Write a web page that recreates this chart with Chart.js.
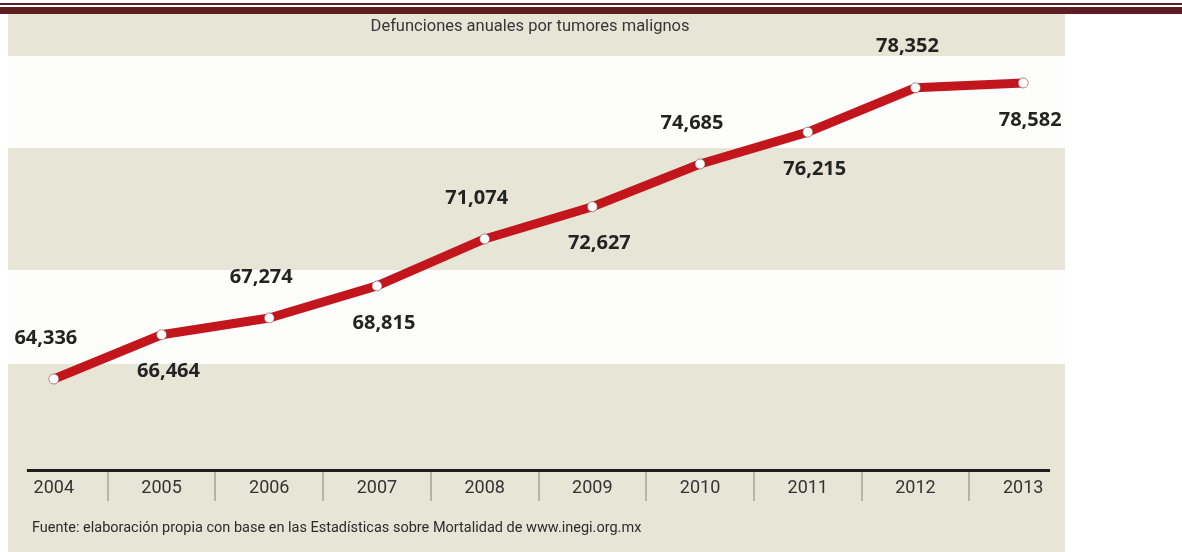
<!DOCTYPE html>
<html><head><meta charset="utf-8">
<script src="https://cdn.jsdelivr.net/npm/chart.js@4/dist/chart.umd.min.js"></script>
<style>
html,body{margin:0;padding:0;background:#fff;width:1182px;height:552px;overflow:hidden;position:relative}
#rule1{position:absolute;left:0;top:3px;width:1182px;height:2px;background:#5e1e20}
#rule2{position:absolute;left:0;top:7px;width:1182px;height:7px;background:#5e1e20}
#panel{position:absolute;left:8px;top:14px;width:1057px;height:538px;
 background:linear-gradient(to bottom,#e6e5d6 0,#e6e5d6 42px,#fdfdfb 42px,#fdfdfb 134px,#e6e5d6 134px,#e6e5d6 256px,#fdfdfb 256px,#fdfdfb 350px,#e6e5d6 350px,#e6e5d6 100%)}
#chart{position:absolute;left:-17px;top:0}
#source{position:absolute;left:32px;top:520px;font-family:Roboto;font-size:14.5px;line-height:16px;color:#2b2b2b;white-space:nowrap}
</style></head>
<body>
<div id="rule1"></div><div id="rule2"></div><div id="panel"></div>
<canvas id="chart" width="1094" height="552"></canvas>
<div id="source">Fuente: elaboración propia con base en las Estadísticas sobre Mortalidad de www.inegi.org.mx</div>
<script>
const years = ['2004','2005','2006','2007','2008','2009','2010','2011','2012','2013'];
const deaths = [64336, 66464, 67274, 68815, 71074, 72627, 74685, 76215, 78352, 78582];
const yMin = 60000;
const yMax = 80000;
const chartTitle = 'Defunciones anuales por tumores malignos';

const pointLabels = {
  id: 'pointLabels',
  afterDatasetsDraw(chart) {
    const ctx = chart.ctx;
    const meta = chart.getDatasetMeta(0);
    ctx.save();
    ctx.font = 'bold 20px "Open Sans"';
    ctx.fillStyle = '#232323';
    ctx.textAlign = 'center';
    ctx.textBaseline = 'middle';
    meta.data.forEach((pt, i) => {
      const above = i % 2 === 0;
      ctx.fillText(deaths[i].toLocaleString('en-US'), pt.x + (above ? -8 : 7), pt.y + (above ? -41 : 37));
    });
    ctx.restore();
  }
};

const axisRule = {
  id: 'axisRule',
  beforeDatasetsDraw(chart) {
    const ctx = chart.ctx;
    const xs = chart.scales.x;
    const y = chart.chartArea.bottom + 1.5;
    ctx.save();
    ctx.strokeStyle = '#1e1e1e';
    ctx.lineWidth = 3;
    ctx.beginPath();
    ctx.moveTo(xs.getPixelForValue(-0.25), y);
    ctx.lineTo(xs.getPixelForValue(years.length - 0.75), y);
    ctx.stroke();
    ctx.restore();
  }
};

new Chart(document.getElementById('chart'), {
  type: 'line',
  data: {
    labels: years,
    datasets: [{
      data: deaths,
      borderColor: '#c3161c',
      borderWidth: 9,
      tension: 0,
      borderCapStyle: 'round',
      borderJoinStyle: 'round',
      pointRadius: 5,
      pointHoverRadius: 5,
      pointBackgroundColor: '#ffffff',
      pointBorderColor: 'rgba(130,70,70,0.6)',
      pointBorderWidth: 1,
      fill: false
    }]
  },
  options: {
    responsive: false,
    devicePixelRatio: 1,
    animation: false,
    events: [],
    layout: { autoPadding: false, padding: { left: 0, right: 0, top: 0, bottom: 12.9 } },
    plugins: {
      legend: { display: false },
      tooltip: { enabled: false },
      title: {
        display: true,
        text: chartTitle,
        color: '#363636',
        font: { family: 'Roboto', size: 16.5, weight: 'normal' },
        padding: { top: 17, bottom: 16.7 }
      }
    },
    scales: {
      x: {
        type: 'category',
        offset: true,
        border: { display: false },
        grid: {
          offset: true,
          drawOnChartArea: false,
          drawTicks: true,
          tickLength: 32,
          lineWidth: 2,
          color: (c) => (c.type === 'tick' && c.index > 0) ? 'rgba(120,120,110,0.45)' : 'rgba(0,0,0,0)'
        },
        ticks: {
          padding: -23,
          color: '#333333',
          font: { family: 'Roboto', size: 18 },
          autoSkip: false,
          maxRotation: 0
        },
        afterFit: (scale) => { scale.height = 70; }
      },
      y: {
        type: 'linear',
        display: true,
        min: yMin,
        max: yMax,
        border: { display: false },
        grid: { display: false },
        ticks: { display: false },
        afterFit: (scale) => { scale.width = 17; }
      }
    }
  },
  plugins: [axisRule, pointLabels]
});
</script>
</body></html>
